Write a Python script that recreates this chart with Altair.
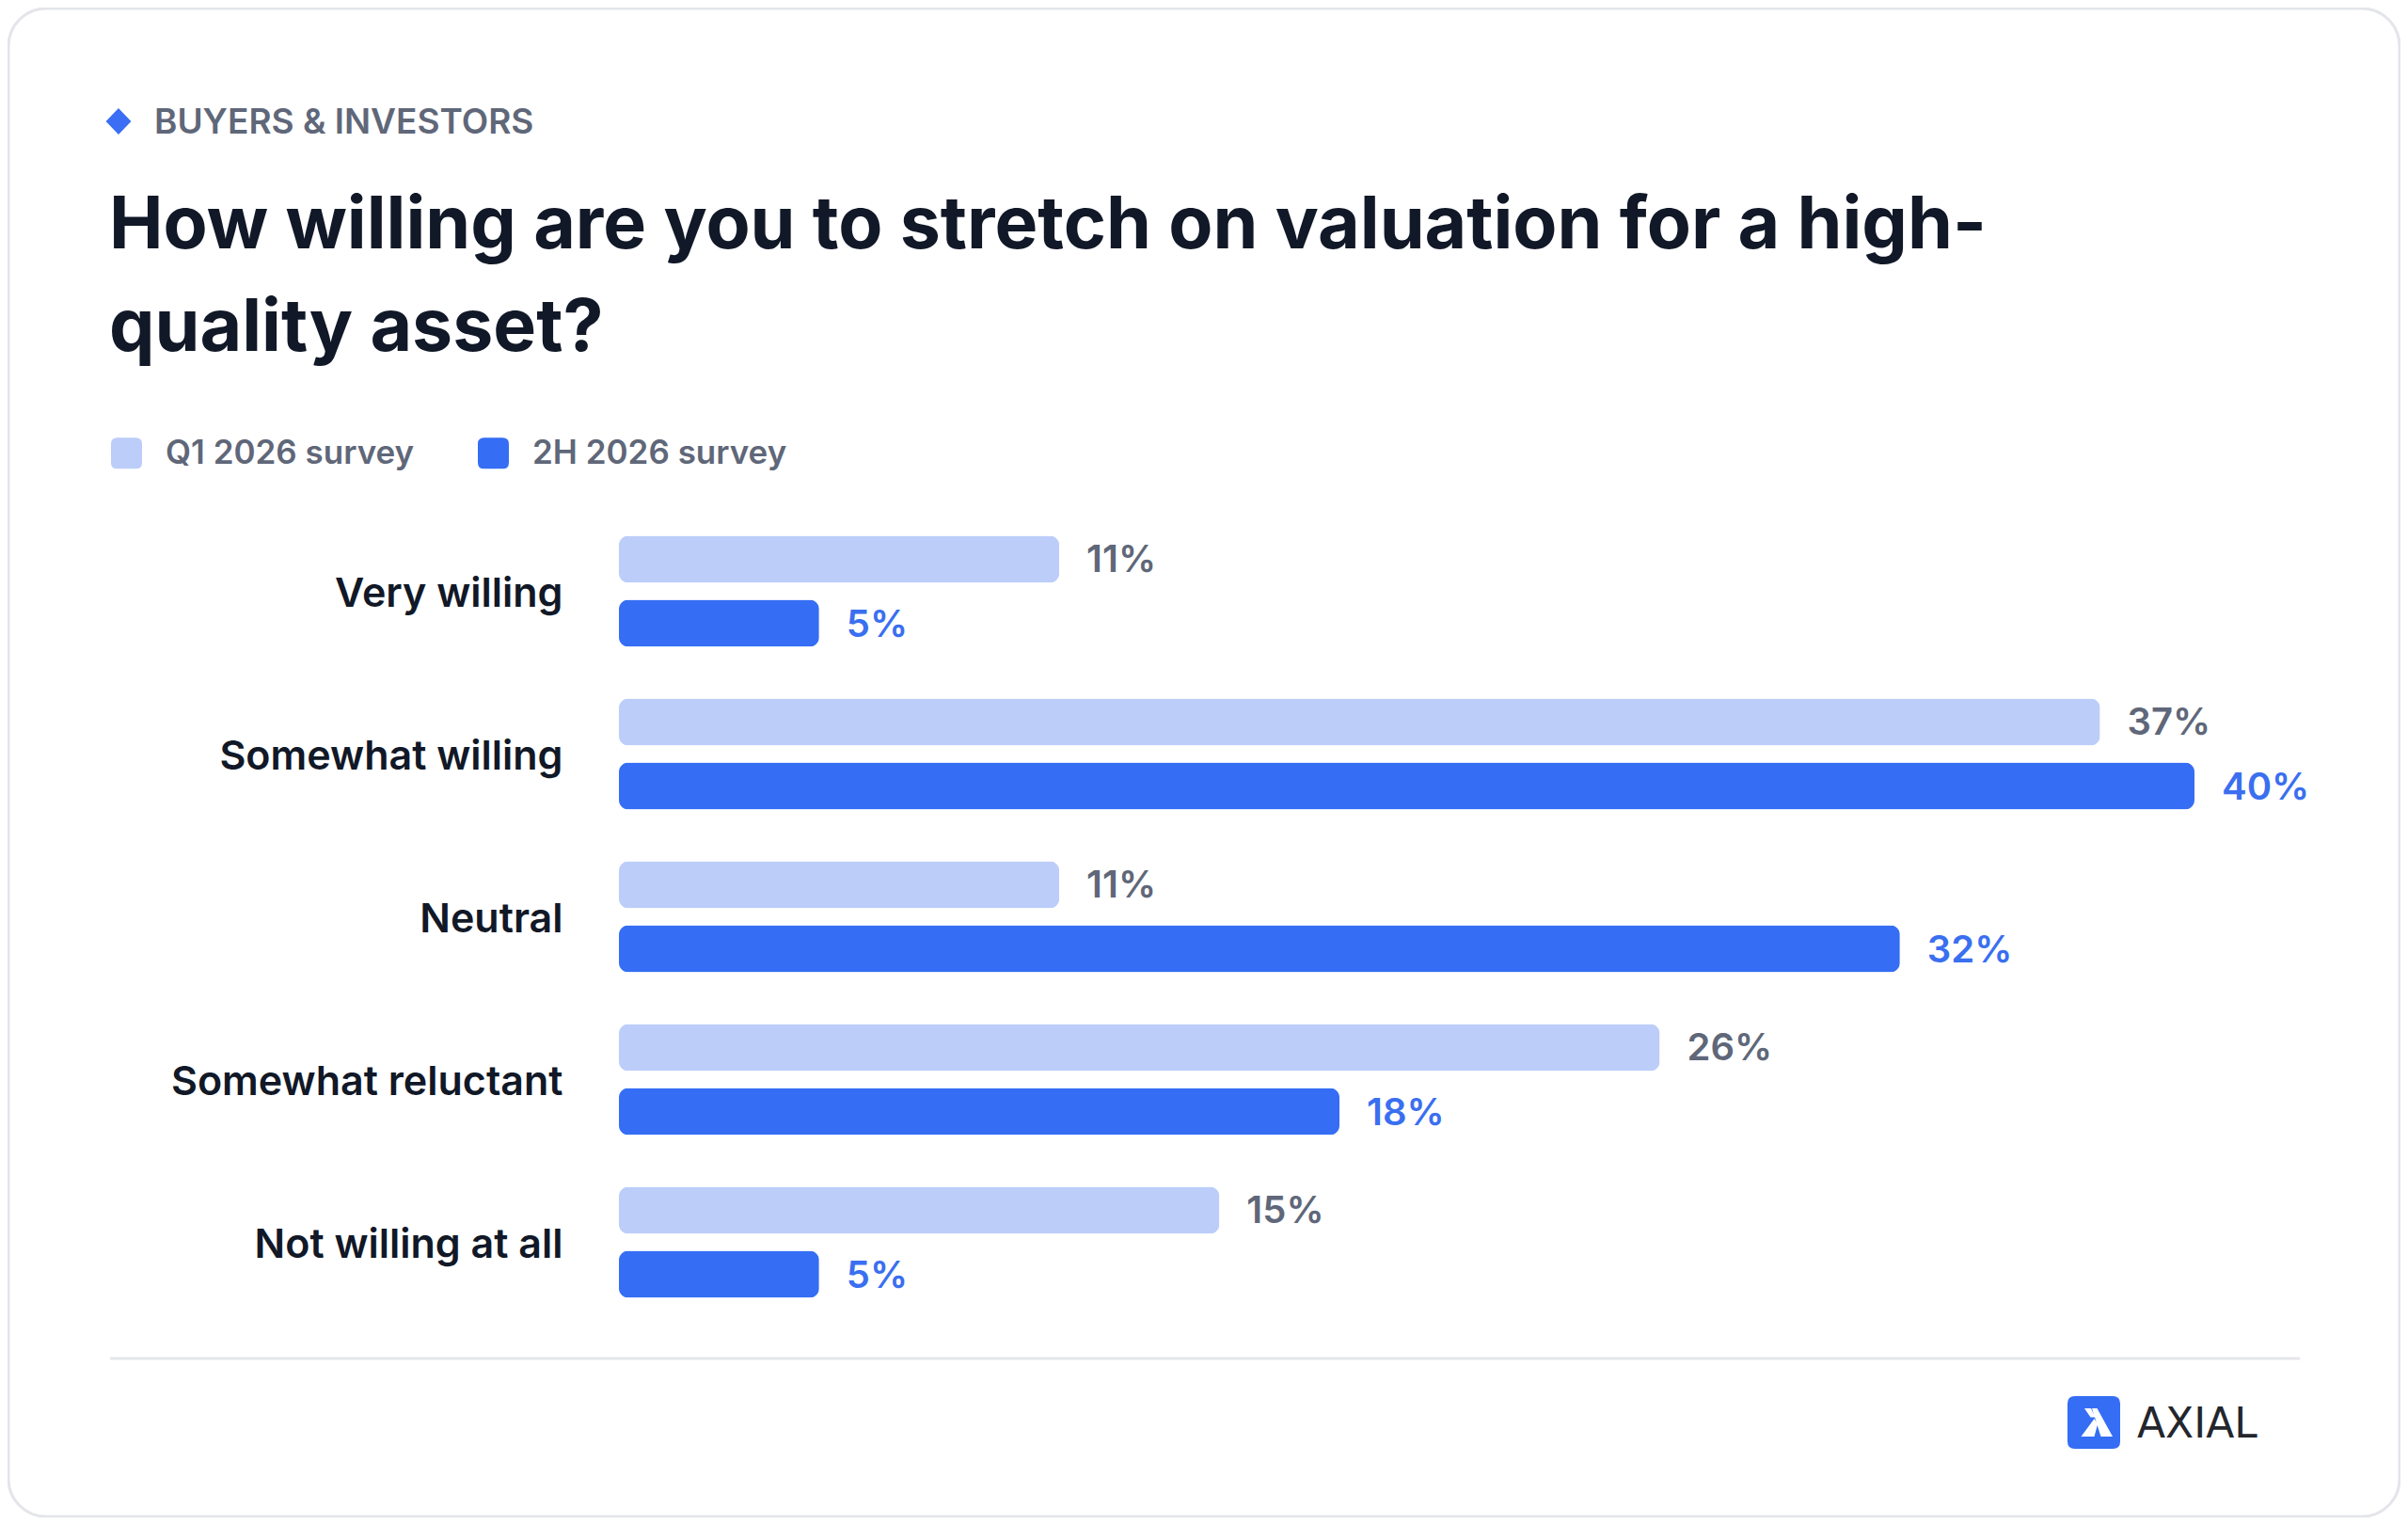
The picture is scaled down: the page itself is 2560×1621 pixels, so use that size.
import altair as alt
import pandas as pd

# ---- data ----
categories = ["Very willing", "Somewhat willing", "Neutral", "Somewhat reluctant", "Not willing at all"]
series = ["Q1 2026 survey", "2H 2026 survey"]
q1_values = [11, 37, 11, 26, 15]
h2_values = [5, 40, 32, 18, 5]

kicker = "BUYERS & INVESTORS"
title_lines = ["How willing are you to stretch on valuation for a high-", "quality asset?"]
brand = "AXIAL"

rows = []
for c, a, b in zip(categories, q1_values, h2_values):
    rows.append({"category": c, "series": series[0], "value": a})
    rows.append({"category": c, "series": series[1], "value": b})
df = pd.DataFrame(rows)

LIGHT = "#bccdf9"
DARK = "#356ef4"
GRAY_TXT = "#5f6779"
BLUE_TXT = "#3a6ff0"
INK = "#111827"
FONT = "Inter"

W, H = 1675, 865
one = pd.DataFrame({"k": [0]})

rounded_sq = "M-1,-0.6 Q-1,-1 -0.6,-1 L0.6,-1 Q1,-1 1,-0.6 L1,0.6 Q1,1 0.6,1 L-0.6,1 Q-1,1 -1,0.6 Z"
diamond = "M0,-1 L0.96,0 L0,1 L-0.96,0 Z"
logo_sq = "M-1,-0.72 Q-1,-1 -0.72,-1 L0.72,-1 Q1,-1 1,-0.72 L1,0.72 Q1,1 0.72,1 L-0.72,1 Q-1,1 -1,0.72 Z"
glyph = ("M-0.475,-0.725 L-0.125,-0.725 L0.1,-0.25 L-0.15,-0.25 Z "
         "M-0.075,-0.725 L0.2,-0.725 L1.025,0.775 L0.4,0.775 Z "
         "M0.05,-0.175 L0.225,0.125 L0.05,0.775 L-0.65,0.775 Z")

y_enc = alt.Y("category:N", sort=categories,
              scale=alt.Scale(domain=categories, paddingInner=0.318, paddingOuter=0.159),
              axis=alt.Axis(title=None, domain=False, ticks=False, tickSize=0, labelPadding=60,
                            labelOffset=3,
                            labelFont=FONT, labelFontSize=43, labelFontWeight=600, zindex=1,
                            labelColor=INK, labelAlign="right", labelBaseline="middle", labelLimit=600))
yoff = alt.YOffset("series:N", sort=series, scale=alt.Scale(domain=series, paddingInner=0.265, paddingOuter=0))
x_enc = alt.X("value:Q", scale=alt.Scale(domain=[0, 39.36], nice=False, zero=True, clamp=True), axis=None)

card = alt.Chart(one).mark_rect(cornerRadius=40, fill="white", stroke="#e4e5ea", strokeWidth=3).encode(
    x=alt.value(-649), x2=alt.value(1893), y=alt.value(-533), y2=alt.value(1070))

bars = alt.Chart(df).mark_bar(cornerRadius=10).encode(
    y=y_enc, yOffset=yoff, x=x_enc,
    color=alt.Color("series:N", sort=series,
                    scale=alt.Scale(domain=series, range=[LIGHT, DARK]),
                    legend=alt.Legend(orient="none", legendX=-541, legendY=-78, direction="horizontal",
                                      title=None, symbolType=rounded_sq, symbolSize=1089,
                                      symbolStrokeWidth=0, symbolOpacity=1, labelLimit=600,
                                      labelFont=FONT, labelFontSize=35, labelFontWeight=600,
                                      labelColor=GRAY_TXT, labelOffset=24, columnPadding=66,
                                      padding=0, zindex=1)))

labels = alt.Chart(df).transform_calculate(label="datum.value + '%'").mark_text(
    align="left", baseline="middle", dx=29, dy=2, font=FONT, fontSize=40, fontWeight=600).encode(
    y=alt.Y("category:N", sort=categories), yOffset=alt.YOffset("series:N", sort=series), x=x_enc,
    text="label:N",
    color=alt.condition(alt.datum.series == series[0], alt.value(GRAY_TXT), alt.value(BLUE_TXT)))

dia = alt.Chart(one).mark_point(shape=diamond, filled=True, size=784, color="#3b6ef5", opacity=1).encode(
    x=alt.value(-532), y=alt.value(-413))

kick = alt.Chart(one).mark_text(text=kicker, align="left", baseline="alphabetic", font=FONT,
                                fontSize=37, fontWeight=600, color=GRAY_TXT).encode(
    x=alt.value(-494), y=alt.value(-400))

ttl = alt.Chart(one).mark_text(text=title_lines, align="left", baseline="alphabetic", font=FONT,
                               fontSize=77, fontWeight=700, color=INK, lineHeight=109).encode(
    x=alt.value(-542), y=alt.value(-278))

sep = alt.Chart(one).mark_rule(color="#e5e7eb", strokeWidth=3).encode(
    x=alt.value(-541), x2=alt.value(1787), y=alt.value(902))

logo_box = alt.Chart(one).mark_point(shape=logo_sq, filled=True, size=3136, color=DARK, opacity=1).encode(
    x=alt.value(1568), y=alt.value(970))
logo_glyph = alt.Chart(one).mark_point(shape=glyph, filled=True, size=1600, color="white", opacity=1).encode(
    x=alt.value(1567.5), y=alt.value(969.5))
logo_txt = alt.Chart(one).mark_text(text=brand, align="left", baseline="alphabetic", font="DejaVu Sans",
                                    fontSize=44, fontWeight=400, color="#23262d").encode(
    x=alt.value(1614), y=alt.value(986))

chart = alt.layer(card, bars, labels, dia, kick, ttl, sep, logo_box, logo_glyph, logo_txt).properties(
    width=W, height=H,
    autosize=alt.AutoSizeParams(type="none"),
    padding={"left": 650, "top": 534, "right": 219, "bottom": 206},
    background="white",
).configure_view(stroke=None)

chart.save("out.html", embed_options={"renderer": "svg", "actions": False})
